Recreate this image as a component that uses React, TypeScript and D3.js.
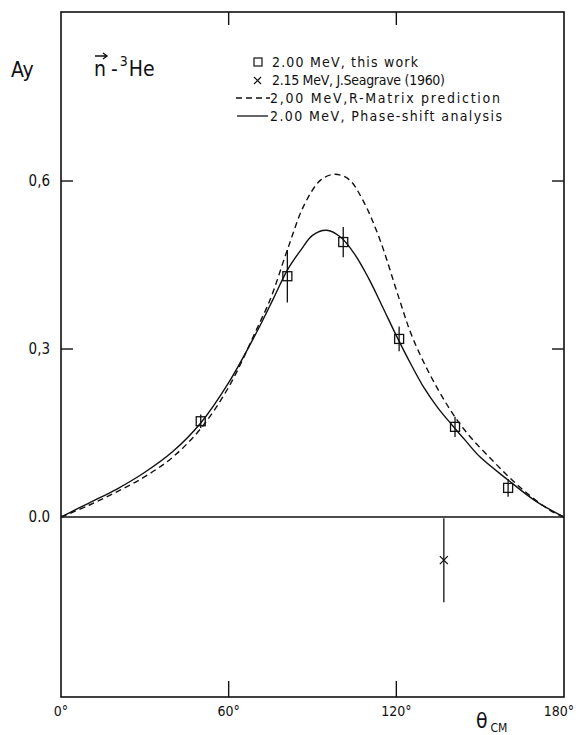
import React, { useEffect, useRef } from "react";
import * as d3 from "d3";

// phase-shift analysis (solid)
const phaseAngles = [0, 10, 20, 30, 40, 50, 60, 70, 76, 81, 86, 90, 95, 100, 105, 110, 115, 120, 125, 130, 135, 140, 145, 150, 160, 170, 180];
const phaseAy = [0, 0.025, 0.05, 0.08, 0.117, 0.168, 0.24, 0.33, 0.39, 0.441, 0.478, 0.503, 0.512, 0.5, 0.47, 0.427, 0.376, 0.324, 0.275, 0.23, 0.194, 0.164, 0.135, 0.107, 0.066, 0.028, 0];

// R-matrix prediction (dashed)
const rmatAngles = [0, 10, 20, 30, 40, 50, 60, 70, 75, 81, 87, 93, 98, 103, 108, 114, 121, 126, 135, 144, 155, 165, 175, 180];
const rmatAy = [0, 0.021, 0.045, 0.072, 0.107, 0.158, 0.232, 0.335, 0.39, 0.477, 0.557, 0.602, 0.612, 0.603, 0.566, 0.497, 0.39, 0.318, 0.227, 0.158, 0.098, 0.05, 0.012, 0];

// 2.00 MeV, this work
const workAngles = [50, 81, 101, 121, 141, 160];
const workAy = [0.171, 0.43, 0.491, 0.318, 0.161, 0.052];
const workErr = [0.012, 0.047, 0.027, 0.022, 0.018, 0.016];

// 2.15 MeV, Seagrave
const seaAngles = [137];
const seaAy = [-0.077];
const seaErr = [0.075];

const xTicks = [0, 60, 120, 180];
const xTickLabels = ["0°", "60°", "120°", "180°"];
const yTicks = [0, 0.3, 0.6];
const yTickLabels = ["0.0", "0,3", "0,6"];

const legendLabels = [
  "2.00 MeV,  this work",
  "2.15 MeV, J.Seagrave (1960)",
  "2,00 MeV,R-Matrix prediction",
  "2.00 MeV, Phase-shift analysis",
];
const legendWidths = [146, 173, 230, 232];

const W = 576;
const H = 735;
const FONT = "'DejaVu Sans Condensed', 'Liberation Sans Narrow', 'DejaVu Sans', sans-serif";

const Chart = () => {
  const ref = useRef(null);

  useEffect(() => {
    const svg = d3.select(ref.current);
    svg.selectAll("*").remove();

    const left = 61, right = 564, top = 12, bottom = 697;
    const x = d3.scaleLinear().domain([0, 180]).range([left, right]);
    const y = d3.scaleLinear().domain([-0.3214, 0.9018]).range([bottom, top]);

    const g = svg.append("g");

    // frame
    g.append("rect")
      .attr("x", left).attr("y", top)
      .attr("width", right - left).attr("height", bottom - top)
      .attr("fill", "none").attr("stroke", "#111").attr("stroke-width", 1.6);

    // zero line
    g.append("line")
      .attr("x1", x(0)).attr("x2", x(180))
      .attr("y1", y(0)).attr("y2", y(0))
      .attr("stroke", "#111").attr("stroke-width", 1.4);

    // x ticks, top and bottom
    [60, 120].forEach((t) => {
      g.append("line").attr("x1", x(t)).attr("x2", x(t)).attr("y1", top).attr("y2", top + 13)
        .attr("stroke", "#111").attr("stroke-width", 1.4);
      g.append("line").attr("x1", x(t)).attr("x2", x(t)).attr("y1", bottom).attr("y2", bottom - 16)
        .attr("stroke", "#111").attr("stroke-width", 1.4);
    });
    // y ticks, left and right
    [0.3, 0.6].forEach((t) => {
      g.append("line").attr("x1", left).attr("x2", left + 12).attr("y1", y(t)).attr("y2", y(t))
        .attr("stroke", "#111").attr("stroke-width", 1.4);
      g.append("line").attr("x1", right).attr("x2", right - 12).attr("y1", y(t)).attr("y2", y(t))
        .attr("stroke", "#111").attr("stroke-width", 1.4);
    });

    // tick labels
    g.selectAll(".xl").data(xTicks).enter().append("text")
      .attr("x", (d) => (d === 180 ? 574 : x(d)))
      .attr("y", bottom + 19)
      .attr("text-anchor", (d) => (d === 180 ? "end" : "middle"))
      .attr("font-family", FONT).attr("font-size", 14)
      .attr("fill", "#111")
      .text((d, i) => xTickLabels[i]);

    g.selectAll(".yl").data(yTicks).enter().append("text")
      .attr("x", 50).attr("y", (d) => y(d) + 5)
      .attr("text-anchor", "end")
      .attr("font-family", FONT).attr("font-size", 15)
      .attr("fill", "#111")
      .text((d, i) => yTickLabels[i]);

    // axis titles
    g.append("text").attr("x", 11).attr("y", 77)
      .attr("font-family", FONT).attr("font-size", 21).attr("fill", "#111").text("Ay");

    const th = g.append("text").attr("x", 476).attr("y", 728)
      .attr("font-family", FONT).attr("fill", "#111");
    th.append("tspan").attr("font-size", 21).text("θ");
    th.append("tspan").attr("font-size", 12).attr("dx", 3).attr("dy", 4).text("CM");

    // reaction label  n -> 3He
    const lab = g.append("text").attr("x", 94).attr("y", 76)
      .attr("font-family", FONT).attr("fill", "#111").attr("font-size", 21);
    lab.append("tspan").text("n");
    lab.append("tspan").attr("dx", 5).text("-");
    lab.append("tspan").attr("font-size", 14).attr("dy", -10).attr("dx", 2).text("3");
    lab.append("tspan").attr("dy", 10).attr("dx", 1).text("He");
    g.append("path")
      .attr("d", "M95,56 L107,56 M103,53 L107,56 L103,59")
      .attr("fill", "none").attr("stroke", "#111").attr("stroke-width", 1.3);

    // curves
    const line = d3.line()
      .x((d) => x(d[0])).y((d) => y(d[1]))
      .curve(d3.curveCatmullRom.alpha(0.5));

    g.append("path")
      .attr("d", line(rmatAngles.map((a, i) => [a, rmatAy[i]])))
      .attr("fill", "none").attr("stroke", "#111").attr("stroke-width", 1.4)
      .attr("stroke-dasharray", "6,4");

    g.append("path")
      .attr("d", line(phaseAngles.map((a, i) => [a, phaseAy[i]])))
      .attr("fill", "none").attr("stroke", "#111").attr("stroke-width", 1.4);

    // this work: squares with error bars
    const work = workAngles.map((a, i) => ({ a, v: workAy[i], e: workErr[i] }));
    g.selectAll(".we").data(work).enter().append("line")
      .attr("x1", (d) => x(d.a)).attr("x2", (d) => x(d.a))
      .attr("y1", (d) => y(d.v + d.e)).attr("y2", (d) => y(d.v - d.e))
      .attr("stroke", "#111").attr("stroke-width", 1.3);
    g.selectAll(".ws").data(work).enter().append("rect")
      .attr("x", (d) => x(d.a) - 4.5).attr("y", (d) => y(d.v) - 4.5)
      .attr("width", 9).attr("height", 9)
      .attr("fill", "none").attr("stroke", "#111").attr("stroke-width", 1.3);

    // Seagrave: cross with error bar
    const sea = seaAngles.map((a, i) => ({ a, v: seaAy[i], e: seaErr[i] }));
    g.selectAll(".se").data(sea).enter().append("line")
      .attr("x1", (d) => x(d.a)).attr("x2", (d) => x(d.a))
      .attr("y1", (d) => y(d.v + d.e)).attr("y2", (d) => y(d.v - d.e))
      .attr("stroke", "#111").attr("stroke-width", 1.3);
    g.selectAll(".sx").data(sea).enter().append("path")
      .attr("d", (d) => {
        const cx = x(d.a), cy = y(d.v), s = 4;
        return `M${cx - s},${cy - s}L${cx + s},${cy + s}M${cx - s},${cy + s}L${cx + s},${cy - s}`;
      })
      .attr("fill", "none").attr("stroke", "#111").attr("stroke-width", 1.3);

    // legend
    const ly = [62, 80, 98, 116];
    g.append("rect").attr("x", 254).attr("y", ly[0] - 4).attr("width", 8).attr("height", 8)
      .attr("fill", "none").attr("stroke", "#111").attr("stroke-width", 1.2);
    g.append("path")
      .attr("d", `M254,${ly[1] - 3}L261,${ly[1] + 4}M254,${ly[1] + 4}L261,${ly[1] - 3}`)
      .attr("fill", "none").attr("stroke", "#111").attr("stroke-width", 1.2);
    g.append("line").attr("x1", 236).attr("x2", 270).attr("y1", ly[2]).attr("y2", ly[2])
      .attr("stroke", "#111").attr("stroke-width", 1.3).attr("stroke-dasharray", "6,4");
    g.append("line").attr("x1", 237).attr("x2", 268).attr("y1", ly[3]).attr("y2", ly[3])
      .attr("stroke", "#111").attr("stroke-width", 1.3);
    g.selectAll(".lg").data(legendLabels).enter().append("text")
      .attr("x", (d, i) => (i >= 2 ? 270 : 272)).attr("y", (d, i) => ly[i] + 5)
      .attr("font-family", FONT).attr("font-size", 14).attr("fill", "#111")
      .attr("textLength", (d, i) => legendWidths[i])
      .attr("lengthAdjust", "spacing")
      .text((d) => d);
  });

  return <svg ref={ref} width={W} height={H} style={{ display: "block", background: "#fff" }}></svg>;
};

export default function App() {
  return (
    <div style={{ position: "absolute", left: 0, top: 0 }}>
      <Chart />
    </div>
  );
}
